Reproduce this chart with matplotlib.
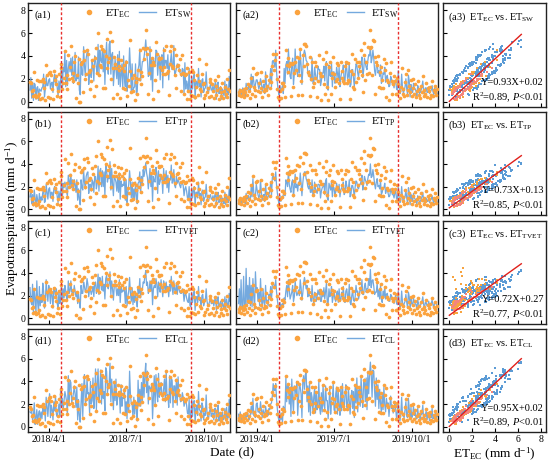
import numpy as np
import pandas as pd
import matplotlib
matplotlib.use("Agg")
import matplotlib.pyplot as plt
from matplotlib.lines import Line2D

plt.rcParams['font.family'] = ['Liberation Serif', 'DejaVu Serif']
plt.rcParams['mathtext.fontset'] = 'custom'
plt.rcParams['mathtext.rm'] = 'Liberation Serif'
plt.rcParams['mathtext.it'] = 'Liberation Serif:italic'
plt.rcParams['mathtext.bf'] = 'Liberation Serif:bold'

# daily ET (mm/d), 10 Mar - 31 Oct (one line per month)
ec_2018 = [1.7, 1.6, 0.9, 1.0, 0.5, 2.6, 0.6, 0.4, 1.9, 0.5, 0.7, 1.8, 0.2, 1.8, 0.3, 2.0, 1.7, 1.2, 0.1, 3.2, 2.3, 0.4,
           2.5, 2.6, 0.3, 2.3, 1.1, 0.2, 2.7, 1.9, 2.2, 1.5, 0.5, 0.9, 2.4, 0.4, 3.3, 2.9, 1.1, 1.6, 2.1, 4.4, 1.6, 2.3, 1.1, 4.1, 2.0, 3.0, 4.9, 2.1, 2.5, 1.8,
           3.5, 4.0, 0.3, 2.3, 1.6, 3.7, 0.0, 0.0, 3.3, 3.5, 0.8, 3.6, 4.4, 2.0, 2.4, 4.5, 4.2, 2.6, 1.1, 2.8, 1.8, 3.6, 3.1, 0.5, 3.8, 4.7, 1.4, 2.5, 6.0, 2.3, 3.2,
           4.9, 3.0, 4.6, 1.2, 4.4, 1.2, 4.0, 5.5, 2.9, 3.5, 3.8, 6.1, 2.0, 5.3, 2.9, 0.3, 3.9, 3.3, 2.9, 0.7, 3.7, 2.8, 3.1, 0.3, 3.6, 2.9, 1.2, 2.7, 3.2, 1.1,
           3.5, 0.5, 1.9, 1.4, 5.4, 2.7, 0.8, 2.1, 0.9, 2.3, 0.1, 2.1, 1.7, 0.7, 2.8, 2.0, 4.5, 1.5, 2.6, 2.2, 4.7, 3.7, 4.6, 6.3, 4.2, 4.7, 0.7, 2.5, 4.5, 3.2, 3.8,
           0.2, 3.5, 3.2, 1.9, 5.2, 4.2, 0.9, 3.7, 3.8, 3.0, 3.8, 2.8, 2.4, 4.5, 3.0, 2.4, 4.9, 2.5, 2.7, 0.6, 4.4, 3.3, 4.9, 3.1, 2.9, 4.6, 2.3, 1.2, 4.1, 3.1, 3.2,
           2.8, 3.7, 0.9, 2.4, 4.1, 2.5, 0.7, 2.3, 2.4, 2.9, 0.2, 0.9, 2.6, 0.2, 0.6, 2.8, 0.5, 2.6, 1.9, 0.4, 1.3, 2.3, 0.6, 3.7, 1.8, 1.1, 0.9, 2.4, 1.5, 0.3,
           1.6, 0.6, 3.3, 0.8, 1.2, 0.4, 1.7, 2.0, 0.5, 1.5, 0.9, 0.3, 1.9, 1.4, 0.6, 1.0, 2.2, 0.2, 1.2, 0.8, 0.5, 1.6, 0.3, 0.9, 1.3, 0.7, 2.0, 0.4, 1.1, 2.8, 0.9]

ec_2019 = [0.8, 0.6, 1.0, 0.5, 0.9, 0.7, 1.1, 0.4, 0.8, 1.2, 0.6, 1.5, 0.9, 0.3, 1.4, 2.1, 0.7, 2.9, 1.3, 0.5, 1.0, 2.4,
           2.5, 0.9, 1.6, 0.8, 2.6, 1.2, 0.4, 1.8, 0.9, 1.1, 2.2, 1.0, 1.4, 0.6, 1.9, 1.2, 2.4, 1.7, 3.1, 4.2, 2.8, 3.6, 4.2, 2.0, 1.1, 0.4, 0.2, 0.9, 0.3, 1.6,
           1.1, 1.6, 1.4, 0.4, 4.5, 3.2, 2.6, 3.8, 3.1, 3.4, 0.5, 3.3, 3.4, 1.3, 2.5, 3.5, 2.8, 3.9, 0.6, 2.3, 3.8, 4.6, 1.8, 0.6, 4.1, 5.0, 3.1, 5.0, 4.9, 3.3, 2.6,
           2.3, 3.9, 0.5, 2.0, 3.5, 1.3, 1.6, 3.5, 2.1, 3.1, 0.4, 1.8, 4.1, 2.5, 0.1, 2.2, 2.2, 3.7, 1.5, 0.7, 4.3, 3.3, 1.3, 0.1, 3.0, 3.5, 0.7, 2.1, 2.5, 3.9,
           2.4, 1.3, 1.8, 3.4, 2.0, 3.2, 1.6, 0.2, 3.5, 2.1, 2.7, 1.8, 1.6, 3.1, 3.5, 1.6, 1.9, 3.4, 1.8, 0.2, 2.7, 4.2, 1.3, 2.4, 1.1, 3.7, 1.7, 3.5, 2.1, 3.5, 3.1,
           2.7, 4.5, 2.3, 0.8, 4.1, 5.1, 1.9, 3.5, 2.4, 4.8, 2.5, 4.7, 6.3, 4.8, 2.3, 5.4, 5.3, 3.9, 0.7, 3.5, 3.2, 4.0, 1.3, 2.6, 3.0, 1.2, 1.9, 1.2, 3.7, 2.8, 0.4,
           3.4, 1.9, 1.7, 0.1, 2.5, 3.5, 0.7, 1.8, 1.5, 2.2, 1.8, 0.7, 0.7, 2.1, 1.5, 0.9, 0.3, 1.3, 2.9, 0.7, 1.1, 0.5, 1.7, 2.4, 0.6, 1.0, 2.8, 1.4, 0.8, 1.9,
           0.5, 1.2, 2.0, 0.7, 1.5, 0.4, 0.9, 1.8, 0.6, 1.1, 0.3, 1.4, 0.8, 2.2, 0.5, 1.0, 0.7, 1.6, 0.4, 1.2, 0.9, 0.3, 1.3, 0.6, 1.8, 0.5, 1.0, 0.8, 1.4, 0.6, 1.1]

sw_2018 = [1.0, 2.1, 0.3, 1.7, 0.1, 1.6, 1.5, 0.2, 1.2, 1.3, 0.1, 1.1, 1.0, 0.9, 1.2, 1.3, 2.4, 0.4, 1.1, 2.2, 1.4, 1.4,
           1.9, 2.0, 1.1, 1.6, 1.7, 0.8, 2.0, 2.4, 1.5, 2.1, 1.2, 0.5, 1.8, 1.0, 1.9, 3.3, 1.0, 3.0, 2.6, 4.4, 1.3, 3.6, 1.4, 2.9, 3.5, 2.6, 3.8, 2.3, 3.9, 1.6,
           2.1, 4.3, 1.8, 2.2, 2.0, 3.9, 1.0, 0.6, 3.5, 2.4, 2.3, 4.8, 3.1, 2.2, 3.8, 4.3, 4.4, 1.5, 2.6, 2.6, 2.1, 3.6, 3.0, 1.8, 4.0, 3.7, 2.9, 2.4, 5.0, 2.4, 4.5,
           3.6, 3.4, 4.5, 2.6, 4.6, 1.5, 4.0, 5.2, 3.1, 2.4, 5.0, 5.3, 2.4, 4.1, 4.3, 1.4, 2.6, 3.7, 2.8, 2.0, 4.1, 1.5, 4.4, 1.3, 2.3, 3.3, 1.2, 4.0, 2.0, 1.3,
           3.6, 0.9, 1.9, 2.7, 4.7, 3.0, 0.8, 3.3, 1.0, 1.2, 1.3, 3.3, 0.6, 0.9, 2.8, 3.2, 4.6, 1.8, 2.6, 3.5, 3.5, 3.9, 4.5, 5.4, 4.3, 3.6, 2.2, 2.3, 4.8, 1.9, 3.7,
           0.9, 3.8, 3.1, 3.2, 4.5, 4.4, 2.3, 3.4, 4.0, 1.9, 3.8, 4.1, 1.2, 4.7, 2.9, 3.6, 3.6, 2.9, 4.1, 1.9, 3.2, 3.5, 4.2, 2.8, 3.1, 4.9, 2.3, 2.5, 2.9, 3.3, 3.1,
           3.0, 2.6, 2.4, 2.2, 2.9, 2.8, 0.7, 3.4, 1.1, 1.8, 1.5, 0.8, 2.9, 0.9, 0.4, 2.2, 1.1, 2.0, 2.4, 0.2, 1.8, 1.7, 1.2, 2.9, 1.3, 1.6, 0.4, 1.9, 2.0, 0.8,
           1.1, 1.2, 2.6, 1.3, 0.7, 0.9, 1.2, 1.5, 1.0, 1.0, 1.4, 0.8, 1.4, 1.8, 0.2, 1.5, 1.7, 0.7, 0.8, 1.3, 0.2, 1.1, 0.8, 0.5, 1.8, 0.3, 1.5, 0.9, 0.6, 2.2, 1.3]

sw_2019 = [0.5, 1.1, 0.6, 0.9, 0.5, 1.2, 0.7, 0.9, 0.4, 1.6, 1.0, 1.1, 1.4, 0.8, 0.9, 2.4, 1.3, 2.2, 1.8, 0.9, 1.5, 1.9,
           1.9, 1.5, 1.1, 1.4, 2.0, 1.7, 0.9, 1.3, 1.5, 0.7, 2.6, 1.5, 0.9, 1.2, 1.5, 1.8, 2.9, 1.3, 3.5, 3.6, 3.3, 3.0, 4.5, 2.6, 1.6, 0.9, 0.6, 1.4, 0.8, 1.1,
           1.4, 0.7, 2.9, 1.6, 3.2, 3.5, 2.4, 4.6, 3.3, 2.2, 2.0, 3.1, 3.8, 1.5, 2.4, 4.6, 2.9, 2.7, 2.2, 3.6, 2.5, 4.4, 3.2, 1.5, 2.7, 4.1, 4.5, 4.2, 3.6, 3.5, 2.4,
           2.6, 2.7, 2.1, 1.8, 3.8, 1.6, 1.5, 3.0, 2.4, 1.9, 1.9, 3.1, 2.8, 2.8, 1.4, 1.8, 2.5, 2.5, 3.1, 1.8, 3.2, 3.5, 1.2, 1.0, 3.2, 2.3, 2.2, 3.4, 1.3, 2.6,
           2.6, 1.6, 1.7, 3.0, 2.5, 1.9, 3.0, 1.3, 2.1, 2.6, 2.6, 3.2, 1.7, 1.8, 3.3, 2.9, 2.0, 2.2, 3.4, 1.3, 1.5, 2.8, 2.8, 2.0, 1.3, 2.5, 3.3, 3.2, 2.5, 2.1, 2.9,
           2.9, 3.3, 3.9, 2.1, 2.7, 3.8, 3.4, 3.0, 2.8, 3.6, 4.1, 4.0, 4.8, 3.4, 3.8, 4.5, 3.8, 2.7, 2.3, 3.1, 3.5, 2.5, 2.7, 2.2, 3.2, 1.6, 1.8, 2.5, 2.4, 3.0, 1.7,
           2.1, 2.3, 1.7, 1.3, 1.4, 2.2, 2.0, 1.5, 1.6, 1.2, 1.8, 1.9, 1.1, 1.0, 2.7, 1.3, 0.7, 0.9, 2.4, 1.2, 0.7, 1.0, 1.3, 2.0, 1.1, 0.6, 2.3, 1.8, 0.4, 1.5,
           1.0, 0.8, 1.6, 1.2, 1.1, 0.9, 0.5, 1.4, 1.1, 0.7, 0.8, 1.0, 1.3, 1.8, 0.9, 0.6, 1.2, 1.2, 0.8, 0.8, 1.3, 0.7, 0.9, 1.0, 1.4, 0.9, 0.6, 1.2, 1.0, 1.0, 0.7]

tp_2018 = [1.1, 1.5, 0.5, 1.3, 0.3, 1.7, 1.0, 0.2, 1.3, 0.8, 0.3, 1.4, 0.6, 1.1, 0.8, 1.5, 1.9, 0.6, 0.7, 2.2, 1.5, 0.9,
           1.8, 1.9, 1.0, 1.5, 1.5, 0.7, 1.8, 2.0, 1.4, 1.9, 1.1, 0.6, 1.6, 0.9, 1.5, 2.6, 1.0, 2.3, 1.9, 2.4, 2.1, 1.6, 1.2, 3.0, 2.5, 2.0, 3.1, 1.9, 2.6, 1.7,
           2.6, 2.2, 1.5, 2.6, 0.8, 1.8, 0.9, 0.4, 2.6, 1.9, 1.7, 3.4, 2.4, 1.8, 2.9, 3.2, 3.3, 1.4, 2.2, 2.2, 1.6, 2.6, 2.4, 1.5, 2.9, 2.9, 1.8, 2.3, 3.8, 1.6, 3.4,
           3.6, 2.0, 3.4, 2.0, 3.3, 1.2, 3.9, 3.5, 2.4, 2.9, 2.7, 4.2, 1.7, 3.6, 2.2, 1.2, 3.0, 2.7, 2.4, 1.6, 2.9, 1.5, 3.2, 0.9, 2.5, 2.0, 2.2, 2.1, 2.8, 0.8,
           2.6, 0.6, 1.5, 2.2, 3.4, 2.4, 1.0, 2.4, 0.7, 1.8, 0.9, 2.4, 1.2, 0.5, 2.3, 2.4, 3.3, 1.4, 2.9, 2.1, 3.5, 2.9, 3.4, 4.1, 3.2, 2.8, 1.8, 2.7, 3.6, 2.0, 3.0,
           0.7, 2.9, 2.5, 2.4, 3.7, 3.2, 1.4, 3.4, 2.2, 2.5, 3.0, 2.9, 1.4, 3.6, 2.4, 2.6, 3.4, 1.9, 3.0, 1.5, 2.6, 2.6, 3.9, 2.3, 2.4, 3.5, 2.1, 1.9, 2.9, 2.3, 2.6,
           2.4, 2.1, 1.9, 2.4, 2.3, 2.1, 1.2, 1.8, 2.0, 1.6, 1.0, 1.0, 2.0, 0.6, 0.6, 1.9, 1.0, 1.7, 2.0, 0.3, 1.5, 1.5, 1.0, 2.4, 1.2, 1.4, 0.4, 1.6, 1.7, 0.7,
           1.0, 1.1, 2.2, 1.1, 0.7, 0.8, 1.1, 1.3, 0.9, 0.9, 1.2, 0.7, 1.2, 1.5, 0.3, 1.3, 1.5, 0.6, 0.8, 1.1, 0.3, 1.0, 0.7, 0.5, 1.5, 0.4, 1.3, 0.8, 0.6, 1.8, 1.1]

tp_2019 = [0.5, 0.9, 0.6, 0.8, 0.5, 1.0, 0.7, 0.8, 0.5, 1.4, 0.9, 1.0, 1.2, 0.7, 0.9, 2.0, 1.1, 2.7, 1.5, 0.8, 1.2, 2.2,
           1.7, 1.3, 1.0, 1.2, 2.6, 1.5, 0.8, 1.2, 1.3, 0.7, 2.2, 1.3, 0.9, 1.1, 1.3, 1.6, 2.4, 1.2, 2.8, 3.0, 2.7, 2.5, 3.3, 2.1, 1.4, 0.8, 0.5, 1.2, 0.7, 1.0,
           0.9, 1.3, 1.3, 1.2, 2.6, 2.4, 2.0, 3.3, 2.2, 1.8, 1.5, 2.4, 2.6, 1.1, 2.0, 3.1, 1.9, 2.2, 1.6, 2.4, 2.1, 3.2, 2.3, 1.2, 2.3, 3.0, 3.3, 3.3, 2.7, 2.5, 2.0,
           1.8, 2.2, 1.5, 1.5, 2.6, 1.2, 1.3, 2.4, 1.8, 1.6, 1.4, 2.2, 2.2, 2.1, 1.0, 1.6, 1.9, 2.0, 2.3, 1.3, 2.5, 2.7, 1.0, 0.8, 2.3, 2.0, 1.7, 2.5, 1.1, 2.0,
           1.9, 1.3, 1.5, 2.3, 1.9, 1.5, 2.2, 1.1, 1.7, 1.9, 2.0, 2.4, 1.3, 1.5, 2.5, 2.1, 1.6, 1.8, 2.6, 1.1, 1.3, 2.1, 2.1, 1.7, 1.1, 2.0, 2.5, 2.4, 1.9, 1.8, 2.2,
           2.2, 2.5, 3.0, 1.7, 2.2, 2.9, 2.6, 2.4, 2.1, 2.7, 3.1, 3.0, 4.0, 2.8, 2.9, 3.5, 2.9, 2.2, 1.8, 2.4, 2.7, 2.0, 2.1, 1.8, 2.5, 1.3, 1.5, 1.9, 1.9, 2.3, 1.4,
           1.7, 1.8, 1.4, 1.1, 1.2, 1.8, 1.6, 1.3, 1.3, 1.0, 1.5, 1.6, 0.9, 0.9, 2.0, 1.1, 0.6, 0.8, 2.0, 1.0, 0.6, 0.9, 1.1, 1.7, 1.0, 0.5, 1.9, 1.5, 0.4, 1.3,
           0.9, 0.7, 1.4, 1.0, 0.9, 0.8, 0.4, 1.2, 0.9, 0.6, 0.7, 0.9, 1.1, 1.5, 0.8, 0.5, 1.0, 1.0, 0.7, 0.7, 1.1, 0.6, 0.8, 0.9, 1.2, 0.8, 0.5, 1.0, 0.9, 0.9, 0.6]

tvet_2018 = [2.7, 1.5, 1.2, 3.0, 0.5, 2.6, 1.8, 0.4, 3.3, 1.4, 0.5, 2.8, 1.1, 2.1, 1.4, 3.1, 2.4, 0.9, 1.2, 3.4, 2.2, 1.5,
             2.9, 2.4, 1.3, 2.6, 2.0, 0.9, 2.7, 2.5, 1.9, 2.6, 1.3, 0.9, 2.4, 1.3, 1.8, 2.9, 1.3, 2.6, 1.8, 2.9, 2.4, 1.8, 1.6, 3.3, 2.2, 2.4, 3.3, 2.3, 2.4, 2.0,
             2.9, 2.4, 1.9, 2.3, 1.3, 2.2, 1.4, 0.9, 2.9, 2.2, 2.2, 3.2, 2.8, 2.3, 2.6, 3.5, 3.0, 1.9, 2.6, 2.5, 2.1, 2.4, 2.8, 1.9, 3.1, 3.2, 2.2, 2.6, 3.9, 2.1, 3.6,
             3.3, 2.5, 3.7, 2.4, 3.0, 1.7, 3.5, 3.8, 2.8, 2.6, 3.1, 4.1, 2.1, 3.3, 2.6, 1.6, 2.8, 3.1, 2.7, 2.0, 2.6, 2.0, 3.4, 1.4, 2.8, 2.3, 2.5, 2.4, 2.5, 1.3,
             2.8, 1.1, 1.9, 2.4, 3.6, 2.2, 1.5, 2.7, 1.2, 2.1, 1.4, 2.2, 1.7, 1.0, 2.6, 2.2, 3.5, 1.8, 2.6, 2.5, 3.2, 3.1, 3.7, 4.2, 2.9, 3.2, 2.2, 2.5, 3.3, 2.4, 3.3,
             1.2, 2.6, 2.9, 2.7, 3.5, 3.0, 1.9, 3.2, 2.6, 2.3, 3.4, 2.7, 1.9, 3.3, 2.8, 2.5, 3.2, 2.4, 2.8, 1.9, 3.0, 2.4, 3.7, 2.7, 2.1, 3.3, 2.5, 2.3, 3.1, 2.1, 2.9,
             2.6, 2.3, 2.2, 2.2, 2.6, 2.4, 1.5, 2.1, 2.2, 1.8, 1.5, 1.4, 2.2, 1.1, 1.0, 2.3, 1.4, 2.1, 2.4, 0.7, 1.9, 1.9, 1.4, 2.8, 1.6, 1.8, 0.8, 2.0, 2.1, 1.1,
             1.4, 1.5, 2.6, 1.5, 1.1, 1.2, 1.5, 1.7, 1.3, 1.3, 1.6, 1.1, 1.6, 1.9, 0.7, 1.7, 1.9, 1.0, 1.2, 1.5, 0.7, 1.4, 1.1, 0.9, 1.9, 0.8, 1.7, 1.2, 1.0, 2.2, 1.5]

tvet_2019 = [1.3, 2.6, 0.6, 3.4, 0.9, 1.1, 3.7, 0.8, 1.2, 4.4, 1.0, 2.9, 1.3, 3.6, 1.1, 2.9, 1.0, 3.5, 1.9, 0.8, 4.1, 2.4,
             2.7, 1.5, 2.3, 1.1, 3.5, 1.8, 0.9, 2.6, 1.4, 1.1, 2.9, 1.4, 1.6, 1.1, 2.1, 1.7, 2.8, 1.6, 3.0, 3.1, 2.9, 2.6, 3.4, 2.3, 1.6, 1.0, 0.7, 1.4, 0.9, 1.2,
             1.3, 1.0, 1.8, 1.6, 2.4, 2.9, 1.9, 3.4, 2.6, 1.7, 2.0, 2.3, 2.9, 1.5, 1.9, 3.3, 2.4, 2.0, 2.2, 2.5, 2.0, 3.4, 2.7, 1.6, 2.2, 3.1, 3.6, 3.2, 2.6, 2.9, 1.9,
             2.3, 2.0, 2.0, 1.5, 2.9, 1.7, 1.3, 2.3, 2.2, 1.5, 1.9, 2.5, 2.1, 2.5, 1.5, 1.5, 2.4, 1.9, 2.7, 1.7, 2.4, 3.1, 1.3, 1.3, 2.6, 1.9, 2.2, 2.8, 1.4, 1.9,
             2.4, 1.7, 1.5, 2.2, 2.4, 1.4, 2.6, 1.5, 1.6, 2.3, 1.9, 2.8, 1.6, 1.4, 2.4, 2.6, 1.9, 1.7, 3.0, 1.4, 1.2, 2.0, 2.5, 1.6, 1.5, 1.9, 2.9, 2.3, 2.4, 1.7, 2.1,
             2.7, 2.4, 3.4, 2.1, 2.1, 2.8, 3.1, 2.3, 2.6, 2.6, 3.5, 2.9, 4.3, 2.7, 3.3, 3.4, 2.8, 2.1, 2.3, 2.3, 3.1, 1.9, 2.5, 1.7, 2.9, 1.7, 1.4, 2.4, 1.8, 2.8, 1.7,
             2.1, 2.2, 1.7, 1.5, 1.5, 2.1, 2.0, 1.6, 1.7, 1.3, 1.8, 2.0, 1.3, 1.2, 2.4, 1.5, 1.0, 1.2, 2.4, 1.4, 1.0, 1.3, 1.5, 2.1, 1.4, 0.9, 2.3, 1.9, 0.8, 1.7,
             1.3, 1.1, 1.8, 1.4, 1.3, 1.2, 0.8, 1.6, 1.3, 1.0, 1.1, 1.3, 1.5, 1.9, 1.2, 0.9, 1.4, 1.4, 1.1, 1.1, 1.5, 1.0, 1.2, 1.3, 1.6, 1.2, 0.9, 1.4, 1.3, 1.3, 1.0]

cl_2018 = [1.3, 1.2, 1.4, 0.6, 0.9, 2.1, 0.2, 0.8, 1.5, 0.2, 1.1, 1.4, 0.6, 1.3, 0.7, 1.6, 1.3, 1.7, 0.5, 2.6, 1.8, 0.9,
           2.1, 2.9, 0.8, 1.9, 1.5, 0.6, 2.2, 1.4, 2.7, 1.1, 0.9, 1.4, 2.0, 0.9, 3.4, 1.8, 2.5, 1.5, 2.3, 3.1, 2.7, 2.2, 1.2, 4.5, 2.0, 4.1, 3.9, 2.1, 2.5, 2.9,
           3.6, 2.9, 1.7, 3.5, 0.6, 2.4, 1.0, 0.4, 2.0, 3.8, 0.9, 3.5, 4.6, 2.0, 2.3, 4.3, 2.9, 3.0, 1.2, 4.0, 2.0, 2.3, 4.3, 1.6, 2.6, 5.1, 1.5, 3.7, 5.1, 2.3, 3.1,
           5.0, 2.0, 4.6, 2.5, 3.1, 1.4, 5.2, 4.9, 3.0, 3.8, 3.8, 5.6, 2.2, 4.2, 2.8, 1.5, 4.0, 2.3, 4.2, 1.9, 2.5, 3.0, 3.1, 1.2, 3.7, 1.8, 2.6, 2.5, 3.4, 1.1,
           2.2, 0.7, 3.3, 1.3, 4.9, 2.9, 2.0, 2.0, 0.8, 2.6, 1.1, 2.0, 1.9, 0.5, 4.1, 1.8, 3.3, 1.8, 3.9, 2.1, 4.8, 2.6, 4.6, 5.6, 3.0, 4.9, 2.0, 3.6, 3.4, 3.2, 3.8,
           0.7, 2.5, 4.5, 1.8, 4.6, 3.1, 2.2, 4.7, 2.6, 3.3, 3.9, 2.7, 2.6, 3.4, 4.2, 2.2, 4.9, 2.7, 2.8, 1.7, 4.5, 2.1, 4.3, 4.1, 1.7, 3.6, 3.6, 2.3, 4.2, 1.9, 4.4,
           2.8, 2.7, 2.2, 2.3, 3.0, 2.6, 1.8, 2.1, 2.4, 1.9, 1.2, 1.1, 2.4, 0.6, 0.7, 2.4, 0.9, 2.2, 2.3, 0.3, 1.6, 1.9, 1.0, 3.1, 1.5, 1.4, 0.5, 2.1, 1.8, 0.6,
           1.2, 1.0, 2.8, 1.2, 0.8, 0.8, 1.4, 1.6, 0.9, 1.2, 1.2, 0.6, 1.6, 1.6, 0.4, 1.3, 1.9, 0.5, 1.0, 1.1, 0.4, 1.3, 0.6, 0.7, 1.6, 0.5, 1.7, 0.7, 0.8, 2.4, 1.1]

cl_2019 = [1.1, 0.4, 1.3, 0.7, 0.6, 1.0, 0.8, 0.7, 1.1, 0.9, 0.9, 1.2, 0.6, 0.7, 1.1, 1.8, 1.1, 2.5, 1.0, 0.9, 0.8, 2.0,
           2.1, 1.3, 1.3, 1.2, 2.2, 1.5, 0.8, 1.5, 1.2, 0.9, 1.8, 1.3, 1.1, 1.0, 1.6, 1.5, 2.0, 2.1, 2.7, 3.8, 3.2, 3.2, 3.8, 2.4, 1.5, 0.8, 0.5, 1.2, 0.6, 1.2,
           0.4, 1.8, 1.6, 1.5, 4.3, 2.2, 3.7, 3.7, 2.0, 3.5, 0.9, 4.2, 2.4, 1.3, 3.6, 3.4, 2.8, 4.0, 1.0, 2.4, 3.8, 3.5, 2.9, 0.8, 3.9, 4.5, 3.3, 4.6, 4.8, 2.2, 3.6,
           1.3, 3.9, 1.0, 3.0, 2.6, 1.3, 2.6, 3.4, 1.2, 3.1, 1.5, 1.9, 4.0, 1.6, 1.1, 3.0, 1.3, 3.7, 1.9, 1.6, 3.6, 2.3, 2.3, 0.7, 2.0, 3.5, 1.1, 2.2, 2.4, 3.8,
           1.5, 1.3, 2.9, 3.5, 1.1, 3.1, 1.8, 1.0, 3.3, 1.4, 3.8, 2.0, 1.5, 2.9, 3.7, 1.7, 1.7, 3.4, 2.2, 1.1, 2.5, 3.2, 1.6, 3.1, 0.8, 3.6, 2.1, 4.3, 1.3, 3.2, 3.3,
           1.8, 4.4, 2.7, 1.7, 3.9, 4.2, 2.2, 4.3, 1.5, 4.7, 2.9, 4.6, 5.7, 4.6, 2.6, 5.0, 4.9, 3.1, 1.8, 4.3, 2.4, 3.7, 1.6, 3.3, 2.1, 1.2, 2.9, 1.5, 3.5, 1.9, 1.3,
           2.5, 1.8, 2.1, 0.9, 1.8, 2.7, 1.6, 1.9, 1.2, 1.6, 2.2, 1.5, 0.7, 1.4, 2.3, 1.1, 0.5, 1.1, 2.6, 1.0, 0.9, 0.8, 1.5, 2.2, 0.9, 0.8, 2.5, 1.6, 0.6, 1.7,
           0.8, 1.0, 1.8, 1.0, 1.3, 0.7, 0.7, 1.6, 0.9, 0.9, 0.6, 1.2, 1.1, 1.9, 0.7, 0.8, 1.0, 1.4, 0.6, 1.0, 1.1, 0.5, 1.1, 0.8, 1.6, 0.7, 0.8, 1.0, 1.2, 0.8, 0.9]

models = ['SW', 'TP', 'TVET', 'CL']
model_2018 = [sw_2018, tp_2018, tvet_2018, cl_2018]
model_2019 = [sw_2019, tp_2019, tvet_2019, cl_2019]
row_letters = ['a', 'b', 'c', 'd']
slopes = [0.93, 0.73, 0.72, 0.95]
intercepts = [0.02, 0.13, 0.27, 0.02]
r2_values = [0.89, 0.85, 0.77, 0.89]

start_dates = ['2018-03-10', '2019-03-10']
season_2018 = ['2018-04-15', '2018-09-15']
season_2019 = ['2019-04-27', '2019-09-15']
xlims = [('2018-03-08', '2018-10-31'), ('2019-03-07', '2019-11-01')]
tick_dates = [['2018-04-01', '2018-07-01', '2018-10-01'], ['2019-04-01', '2019-07-01', '2019-10-01']]
tick_labels = [['2018/4/1', '2018/7/1', '2018/10/1'], ['2019/4/1', '2019/7/1', '2019/10/1']]

c_dot = '#FBA33E'
c_line = '#74A9DE'
c_red = '#E8302E'
c_grow = '#5B9BD5'
c_pre = '#F7A440'
c_post = '#F4857D'

fig = plt.figure(figsize=(5.5, 4.65), dpi=100)
W, H = 550.0, 465.0
cols = [(28.3, 201.7), (236.0, 202.0), (442.7, 103.3)]
rows = [(3.3, 107.3), (111.7, 215.0), (220.7, 324.0), (329.3, 432.3)]


def style_axes(ax):
    for s in ax.spines.values():
        s.set_linewidth(1.0)
        s.set_color('#222222')
    ax.tick_params(direction='in', length=3, width=0.8, labelsize=7, pad=2)


def plot_series(ax, dates, ec, mod, name, season):
    n = min(len(ec), len(mod))
    ax.plot(dates[:n], mod[:n], color=c_line, lw=0.9, zorder=2)
    ax.scatter(dates[:n], ec[:n], s=7, color=c_dot, lw=0, zorder=3)
    for d in season:
        ax.axvline(pd.Timestamp(d), color=c_red, lw=1.0, ls=(0, (2, 1.5)), zorder=4)
    handles = [Line2D([], [], marker='o', ls='none', color=c_dot, markersize=3),
               Line2D([], [], color=c_line, lw=1.0)]
    ax.legend(handles, [r'ET$_{\mathrm{EC}}$', r'ET$_{\mathrm{%s}}$' % name],
              loc='upper left', bbox_to_anchor=(0.24, 1.0), ncol=2, frameon=False,
              fontsize=8, handlelength=1.5, columnspacing=0.8, handletextpad=0.7,
              borderaxespad=0.0, borderpad=0.35)


for i in range(4):
    y0, y1 = rows[i]
    ec_all, mod_all, grp_all = [], [], []
    for j in range(2):
        x0, w = cols[j]
        ax = fig.add_axes([x0 / W, 1 - y1 / H, w / W, (y1 - y0) / H])
        ec = ec_2018 if j == 0 else ec_2019
        mod = model_2018[i] if j == 0 else model_2019[i]
        season = season_2018 if j == 0 else season_2019
        dates = pd.date_range(start_dates[j], periods=len(ec), freq='D')
        plot_series(ax, dates, ec, mod, models[i], season)
        ax.set_xlim(pd.Timestamp(xlims[j][0]), pd.Timestamp(xlims[j][1]))
        ax.set_ylim(-0.5, 8.6)
        ax.set_yticks([0, 2, 4, 6, 8])
        ax.set_xticks([pd.Timestamp(t) for t in tick_dates[j]])
        if i == 3:
            ax.set_xticklabels(tick_labels[j])
        else:
            ax.set_xticklabels([])
        if j == 1:
            ax.set_yticklabels([])
        style_axes(ax)
        ax.text(0.03, 0.93, '(%s%d)' % (row_letters[i], j + 1), transform=ax.transAxes,
                fontsize=7.5, va='top', ha='left')

        # collect for the scatter panel, grouped by season
        n = min(len(ec), len(mod))
        d = dates[:n]
        grp = np.where(d < pd.Timestamp(season[0]), 0, np.where(d <= pd.Timestamp(season[1]), 1, 2))
        ec_all.append(np.array(ec[:n]))
        mod_all.append(np.array(mod[:n]))
        grp_all.append(grp)

    x = np.concatenate(ec_all)
    y = np.concatenate(mod_all)
    g = np.concatenate(grp_all)
    x0, w = cols[2]
    ax = fig.add_axes([x0 / W, 1 - y1 / H, w / W, (y1 - y0) / H])
    ax.scatter(x[g == 1], y[g == 1], s=4, marker='s', color=c_grow, lw=0, zorder=2)
    ax.scatter(x[g == 0], y[g == 0], s=4, marker='s', color=c_pre, lw=0, zorder=3)
    ax.scatter(x[g == 2], y[g == 2], s=4, marker='s', color=c_post, lw=0, zorder=4)
    xl = np.array([0, x.max()])
    ax.plot(xl, slopes[i] * xl + intercepts[i], color='#E0201B', lw=1.0, zorder=5)
    ax.set_xlim(-0.58, 8.46)
    ax.set_ylim(-0.5, 8.6)
    ax.set_xticks([0, 2, 4, 6, 8])
    ax.set_yticks([0, 2, 4, 6, 8])
    ax.set_yticklabels([])
    if i < 3:
        ax.set_xticklabels([])
    style_axes(ax)
    ax.text(0.05, 0.93, r'(%s3)  ET$_{\mathrm{EC}}$ vs. ET$_{\mathrm{%s}}$' % (row_letters[i], models[i]),
            transform=ax.transAxes, fontsize=7.5, va='top', ha='left')
    ax.text(0.98, 0.235, 'Y=%.2fX+%.2f' % (slopes[i], intercepts[i]), transform=ax.transAxes,
            fontsize=7.5, va='center', ha='right')
    ax.text(0.98, 0.10, r'R$^2$=%.2f, $P$<0.01' % r2_values[i], transform=ax.transAxes,
            fontsize=7.5, va='center', ha='right')

fig.text(12 / W, 1 - 218 / H, r'Evapotranspiration (mm d$^{-1}$)', rotation=90,
         fontsize=9.5, va='center', ha='center')
fig.text(232 / W, 1 - 452 / H, 'Date (d)', fontsize=9.5, va='center', ha='center')
fig.text(494 / W, 1 - 454 / H, r'ET$_{\mathrm{EC}}$ (mm d$^{-1}$)', fontsize=9.5, va='center', ha='center')

fig.savefig('out.png', dpi=100)
